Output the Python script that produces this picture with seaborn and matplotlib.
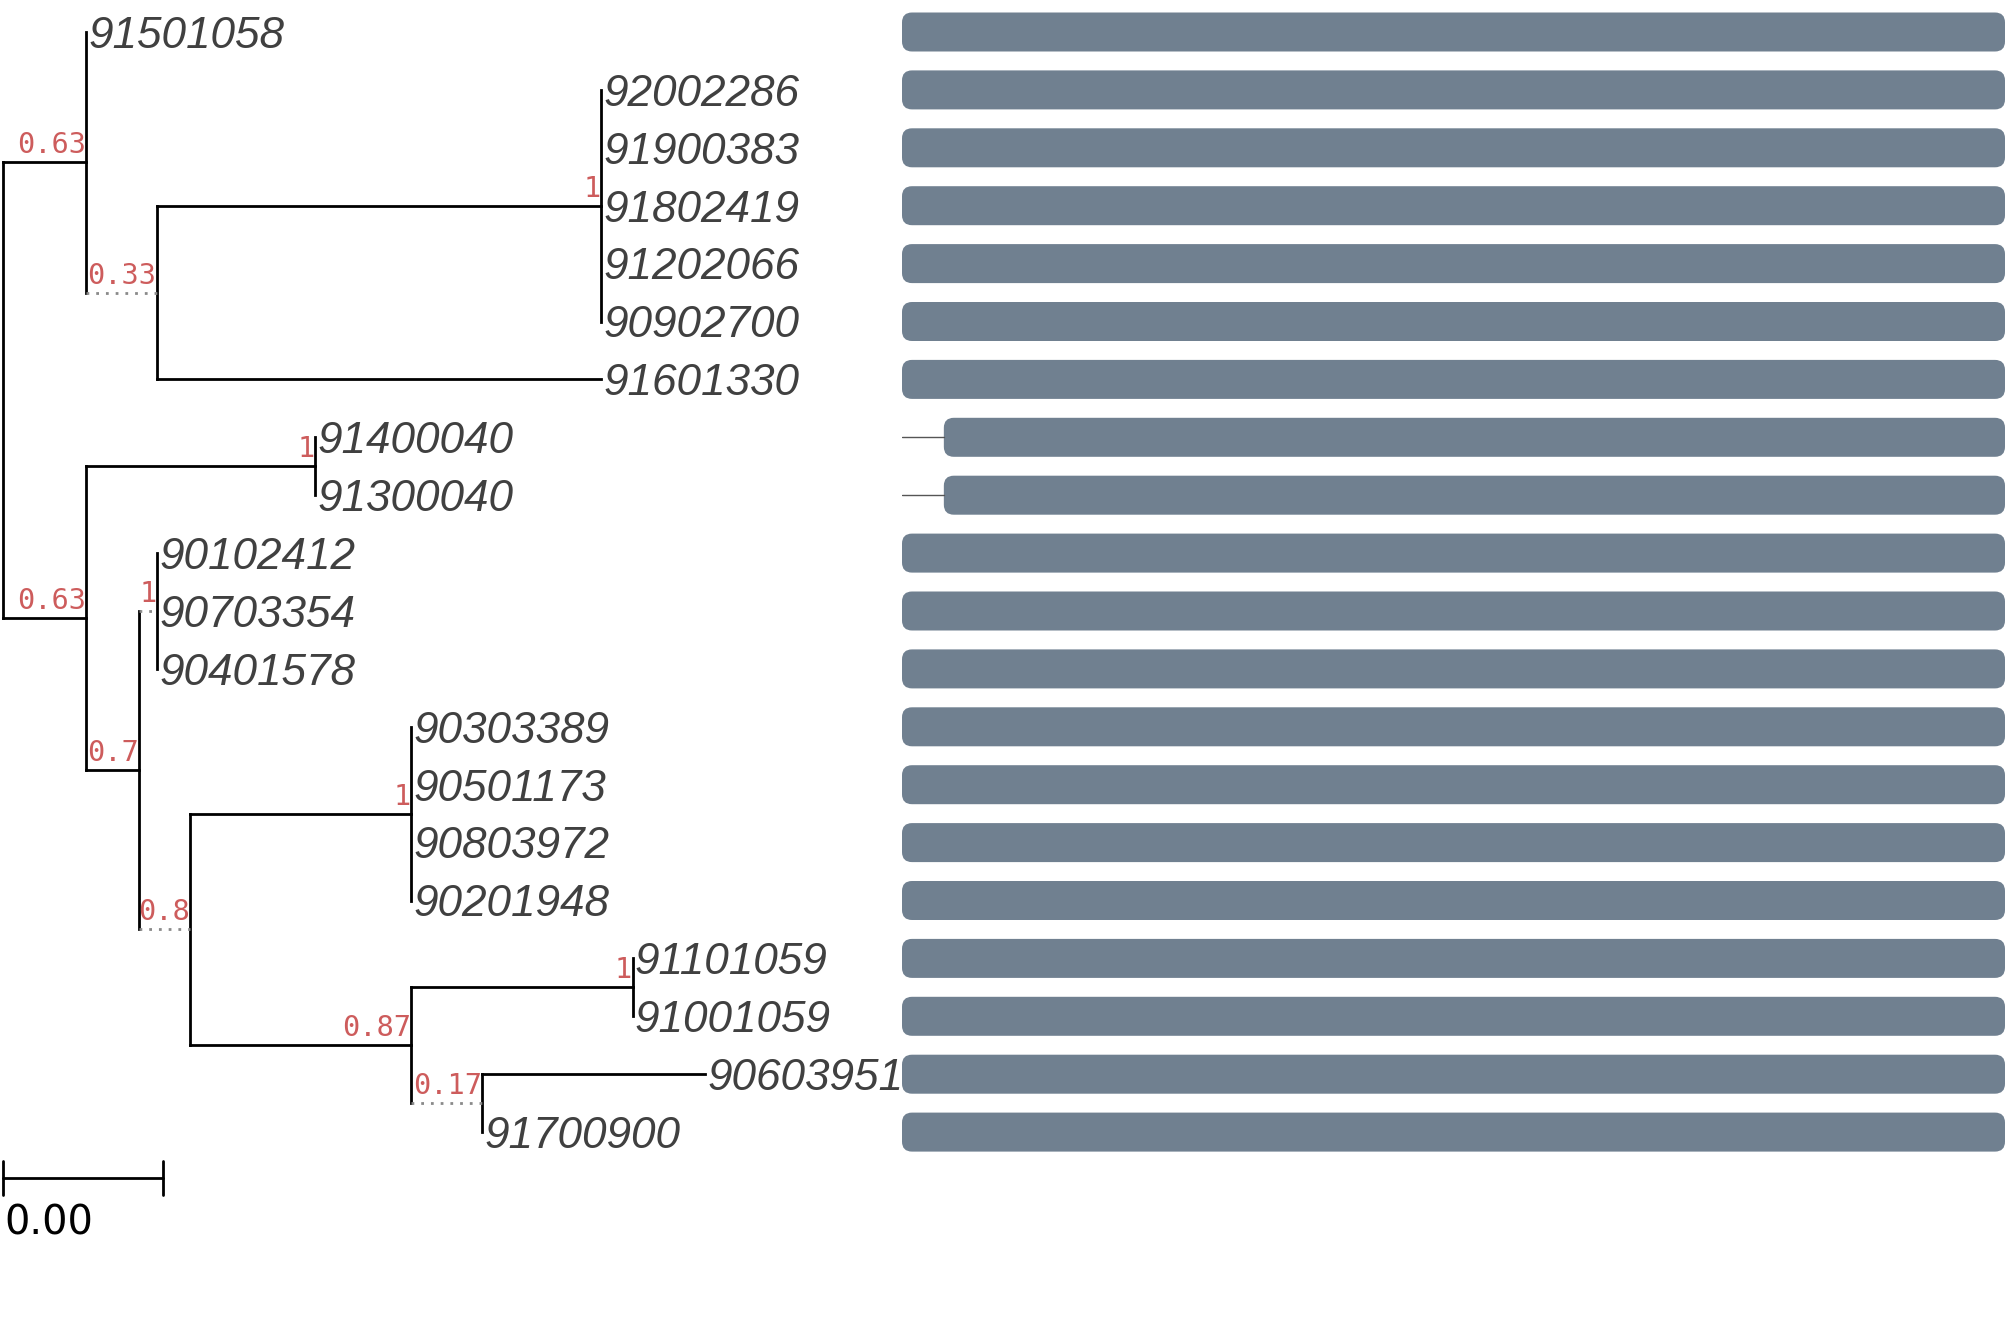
import matplotlib
matplotlib.use("Agg")
import matplotlib.pyplot as plt
from matplotlib.patches import FancyBboxPatch
import seaborn as sns
import numpy as np
import pandas as pd

# Leaves, top to bottom, with their parent node and branch length
leaf_names = ["91501058", "92002286", "91900383", "91802419", "91202066",
              "90902700", "91601330", "91400040", "91300040", "90102412",
              "90703354", "90401578", "90303389", "90501173", "90803972",
              "90201948", "91101059", "91001059", "90603951", "91700900"]
leaf_parent = ["A", "C", "C", "C", "C", "C", "B", "E", "E", "G",
               "G", "G", "I", "I", "I", "I", "K", "K", "L", "L"]
leaf_blen = [0, 0, 0, 0, 0, 0, 0.01104, 0, 0, 0,
             0, 0, 0, 0, 0, 0, 0, 0, 0.00554, 0]

# Internal nodes (parents listed before children)
node_names = ["root", "A", "B", "C", "D", "E", "F", "G", "H", "I", "J", "K", "L"]
node_parent = [None, "root", "A", "B", "root", "D", "D", "F", "F", "H", "H", "J", "J"]
node_blen = [0, 0.00208, 0.00176, 0.01104, 0.00208, 0.0057, 0.00131,
             0.00045, 0.00128, 0.0055, 0.0055, 0.0055, 0.00176]
node_support = [None, "0.63", "0.33", "1", "0.63", "1", "0.7",
                "1", "0.8", "1", "0.87", "1", "0.17"]
node_dotted = [False, False, True, False, False, False, False,
               True, True, False, False, False, True]

# Track on the right
aln_len = 2900
bar_start = [0, 0, 0, 0, 0, 0, 0, 110, 110, 0,
             0, 0, 0, 0, 0, 0, 0, 0, 0, 0]
bar_end = [2900] * 20

scale_bar = 0.004

sns.set_style("white")
plt.rcParams["font.family"] = ["DejaVu Sans"]

W, H = 2007, 1323
fig = plt.figure(figsize=(W / 100, H / 100), dpi=100)

# pixel geometry of the layout
row0_px, row_step_px = 32, 57.9
root_px, bar_px = 2.6, 160.8
k = scale_bar / bar_px  # tree units per pixel
ylim = ((H - row0_px) / row_step_px, -row0_px / row_step_px)

ax = fig.add_axes([0, 0, 1, 1])
ax_bar = fig.add_axes([902 / W, 0, (2005 - 902) / W, 1])

# node positions
nx = {}
for name, par, bl in zip(node_names, node_parent, node_blen):
    nx[name] = 0.0 if par is None else nx[par] + bl
ny, span = {}, {}
for name in reversed(node_names):
    ys = [i for i, p in enumerate(leaf_parent) if p == name]
    ys += [ny[c] for c, p in zip(node_names, node_parent) if p == name]
    span[name] = (min(ys), max(ys))
    ny[name] = (min(ys) + max(ys)) / 2

# branch segments
rows = []
seg = 0
for name, par, dot in zip(node_names, node_parent, node_dotted):
    if par is not None:
        kind = "dotted" if dot else "solid"
        rows += [(seg, nx[par], ny[name], kind), (seg, nx[name], ny[name], kind)]
        seg += 1
    lo, hi = span[name]
    rows += [(seg, nx[name], lo, "solid"), (seg, nx[name], hi, "solid")]
    seg += 1
for i, (par, bl) in enumerate(zip(leaf_parent, leaf_blen)):
    if bl > 0:
        rows += [(seg, nx[par], i, "solid"), (seg, nx[par] + bl, i, "solid")]
        seg += 1
segs = pd.DataFrame(rows, columns=["seg", "x", "y", "kind"])

sns.lineplot(data=segs, x="x", y="y", units="seg", estimator=None, sort=False,
             hue="kind", palette={"solid": "black", "dotted": "#8a8a8a"},
             style="kind", dashes={"solid": "", "dotted": (1, 2.5)},
             linewidth=2, legend=False, ax=ax)
for ln in ax.lines:
    ln.set_solid_capstyle("projecting")

# leaf labels
for i, (name, par, bl) in enumerate(zip(leaf_names, leaf_parent, leaf_blen)):
    ax.annotate(name, (nx[par] + bl, i), xytext=(1.6, -11.4),
                textcoords="offset points", ha="left", va="baseline",
                fontsize=31.8, fontstyle="italic", family="Liberation Sans",
                color="#404040")

# support values
for name, sup in zip(node_names, node_support):
    if sup is None:
        continue
    ax.annotate(sup, (nx[name], ny[name]), xytext=(-0.3, 6.5),
                textcoords="offset points", ha="right", va="baseline",
                fontsize=20.6, family="DejaVu Sans Mono", color="#cd5c5c")

# scale bar
ysb = len(leaf_names) - 1 + 0.79
ax.plot([0, scale_bar], [ysb, ysb], color="black", lw=2)
for xx in (0, scale_bar):
    ax.plot([xx, xx], [ysb - 0.29, ysb + 0.29], color="black", lw=2)
ax.annotate(f"{scale_bar:.2f}", (0, ysb), xytext=(1.4, -40.5),
            textcoords="offset points", ha="left", va="baseline",
            fontsize=28.8, color="black")

ax.set_xlim(-root_px * k, (W - root_px) * k)
ax.set_ylim(*ylim)
ax.axis("off")

# rounded bars
bar_h = 39 / row_step_px
px_x = aln_len / (2005 - 902)
r = 10 * px_x
aspect = (1 / row_step_px) / px_x
for i, (s, e) in enumerate(zip(bar_start, bar_end)):
    if s > 0:
        ax_bar.plot([0, s], [i, i], color="#555555", lw=1)
    ax_bar.add_patch(FancyBboxPatch((s, i - bar_h / 2), e - s, bar_h,
                                    boxstyle=f"round,pad=0,rounding_size={r}",
                                    mutation_aspect=aspect,
                                    facecolor="#708090", edgecolor="none"))
ax_bar.set_xlim(0, aln_len)
ax_bar.set_ylim(*ylim)
ax_bar.axis("off")
ax_bar.patch.set_alpha(0)

fig.savefig("out.png", dpi=100)
